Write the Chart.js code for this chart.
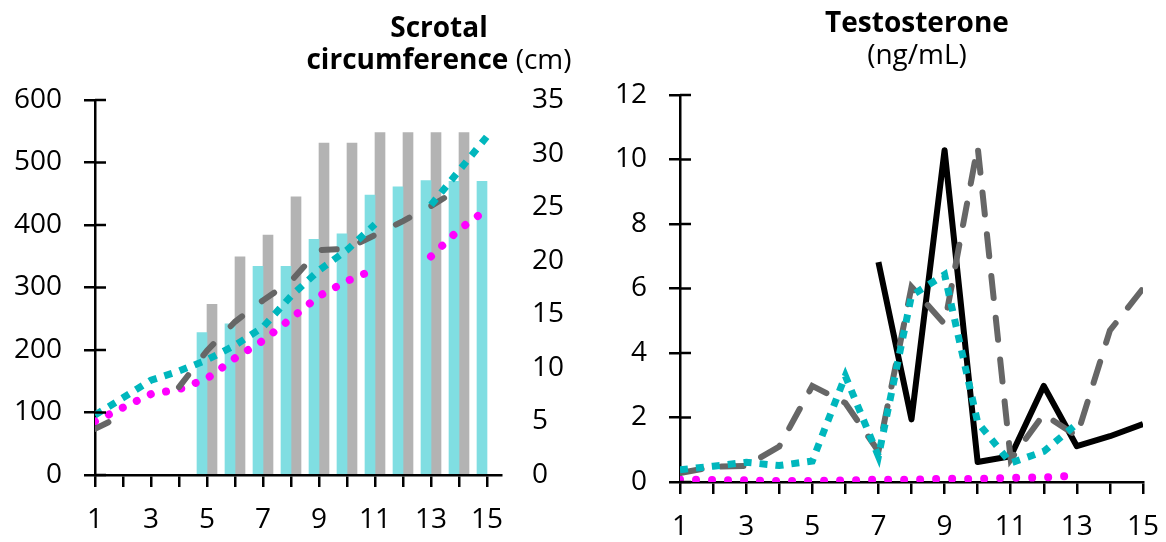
<!DOCTYPE html>
<html>
<head>
<meta charset="utf-8">
<script src="https://cdn.jsdelivr.net/npm/chart.js@4"></script>
<style>
  body { margin: 0; background: #fff; }
  #wrap { position: relative; width: 1166px; height: 542px; overflow: hidden; font-family: "Open Sans", sans-serif; color: #000; }
  canvas { position: absolute; top: 0; }
  .title { position: absolute; text-align: center; font-size: 28px; line-height: 32px; white-space: nowrap; }
  .title b { font-weight: 700; }
</style>
</head>
<body>
<div id="wrap">
  <canvas id="left" width="590" height="542" style="left:0"></canvas>
  <canvas id="right" width="576" height="542" style="left:590px"></canvas>
  <div class="title" style="left:239px; width:400px; top:10px;"><b>Scrotal</b><br><b>circumference</b> (cm)</div>
  <div class="title" style="left:717px; width:400px; top:5px;"><b>Testosterone</b><br>(ng/mL)</div>
</div>
<script>
// x categories (both charts)
const days = [1, 2, 3, 4, 5, 6, 7, 8, 9, 10, 11, 12, 13, 14, 15];

// left chart: bars on left axis (0-600)
const barCyan = [null, null, null, null, 228, 242, 334, 334, 377, 386, 448, 461, 471, 470, 470];
const barGray = [null, null, null, null, 273, 349, 384, 445, 531, 531, 548, 548, 548, 548, null];

// left chart: scrotal circumference lines on right axis (cm)
const scCyan = [5.6, 7.2, 8.85, 9.7, 10.75, 12.1, 13.8, 16.7, 19.1, 21.0, 23.4, null, 25.2, 28.4, 31.6];
const scGray = [4.3, 5.6, null, 8.2, 11.6, 14.3, 16.3, 18.1, 21.0, 21.1, 22.4, 23.7, 25.1, 26.7, null];
const scMagenta = [5.0, 6.3, 7.55, 8.0, 9.0, 10.9, 12.55, 14.6, 16.7, 18.1, 19.2, null, 20.4, 22.9, 24.8];

// right chart: testosterone (ng/mL)
const tBlack = [null, null, null, null, null, null, 6.82, 1.94, 10.29, 0.62, 0.8, 2.98, 1.11, 1.42, 1.8];
const tGray = [0.28, 0.47, 0.5, 1.1, 2.98, 2.45, 0.95, 6.05, 4.9, 10.4, 0.7, 2.1, 1.42, 4.7, 6.0];
const tCyan = [0.38, 0.49, 0.61, 0.51, 0.65, 3.29, 0.8, 5.78, 6.43, 1.85, 0.59, 0.95, 1.8, null, null];
const tMagenta = [0.08, 0.06, 0.05, 0.03, 0.03, 0.05, 0.07, 0.07, 0.1, 0.09, 0.13, 0.14, 0.2, null, null];

// tick labels
const leftTicks = [0, 100, 200, 300, 400, 500, 600];
const rightTicks = [0, 5, 10, 15, 20, 25, 30, 35];
const testTicks = [0, 2, 4, 6, 8, 10, 12];

const tickFont = { family: "Open Sans", size: 28 };
const toXY = arr => arr.map((v, i) => ({ x: days[i], y: v }));

// draws the half of each y tick that sits inside the plot
const innerTicks = {
  id: 'innerTicks',
  afterDraw(chart, args, opts) {
    const s = chart.scales[opts.axis];
    const ctx = chart.ctx;
    ctx.save();
    ctx.strokeStyle = '#000';
    ctx.lineWidth = 2.5;
    s.ticks.forEach(t => {
      const y = s.getPixelForValue(t.value);
      ctx.beginPath();
      ctx.moveTo(s.right, y);
      ctx.lineTo(s.right + opts.len, y);
      ctx.stroke();
    });
    ctx.restore();
  }
};

function xScale(max, h) {
  return {
    type: 'linear',
    bounds: 'data',
    offset: false,
    min: 1,
    max: max,
    afterBuildTicks: s => { s.ticks = days.map(d => ({ value: d })); },
    afterFit: s => { s.height = h; s.paddingLeft = 0; s.paddingRight = 0; },
    ticks: {
      autoSkip: false, maxRotation: 0, color: '#000', font: tickFont, padding: 16,
      callback: v => (v % 2 === 1 ? String(v) : '')
    },
    grid: { drawOnChartArea: false, offset: false, tickLength: 12, color: '#000', lineWidth: 2.5 },
    border: { color: '#000', width: 2.5 }
  };
}

function yScale(ticks, w) {
  return {
    type: 'linear',
    position: 'left',
    bounds: 'data',
    min: ticks[0],
    max: ticks[ticks.length - 1],
    afterBuildTicks: s => { s.ticks = ticks.map(v => ({ value: v })); },
    afterFit: s => { s.width = w; s.paddingTop = 0; s.paddingBottom = 0; },
    ticks: { color: '#000', font: tickFont, padding: 22 },
    grid: { drawOnChartArea: false, tickLength: 11, color: '#000', lineWidth: 2.5 },
    border: { color: '#000', width: 2.5 }
  };
}

const common = {
  responsive: false,
  animation: false,
  events: [],
  plugins: { legend: { display: false }, tooltip: { enabled: false } }
};

new Chart(document.getElementById('left'), {
  type: 'bar',
  data: {
    datasets: [
      { type: 'line', data: toXY(scCyan), yAxisID: 'y1', order: 0, borderColor: '#00b7bd', borderWidth: 7,
        borderDash: [8, 8], borderCapStyle: 'butt', pointRadius: 0, spanGaps: false },
      { type: 'line', data: toXY(scGray), yAxisID: 'y1', order: 0, borderColor: '#666666', borderWidth: 6,
        borderDash: [15, 25], borderCapStyle: 'round', pointRadius: 0, spanGaps: false },
      { type: 'line', data: toXY(scMagenta), yAxisID: 'y1', order: 0, borderColor: '#ff00ff', borderWidth: 8,
        borderDash: [0.01, 15.5], borderCapStyle: 'round', pointRadius: 0, spanGaps: false },
      { data: toXY(barCyan), yAxisID: 'y', order: 1, backgroundColor: '#80dee2', barThickness: 10 },
      { data: toXY(barGray), yAxisID: 'y', order: 1, backgroundColor: '#b3b3b3', barThickness: 10 }
    ]
  },
  options: Object.assign({}, common, {
    layout: { padding: { top: 100, left: 0, right: 0, bottom: 0 } },
    scales: {
      x: xScale(15.5, 67),
      y: yScale(leftTicks, 95),
      y1: {
        type: 'linear', position: 'right', bounds: 'data', min: 0, max: 35,
        afterBuildTicks: s => { s.ticks = rightTicks.map(v => ({ value: v })); },
        afterFit: s => { s.width = 89; s.paddingTop = 0; s.paddingBottom = 0; },
        ticks: { color: '#000', font: tickFont, padding: 31 },
        grid: { display: false, drawTicks: false },
        border: { display: false }
      }
    },
    plugins: Object.assign({}, common.plugins, { innerTicks: { axis: 'y', len: 11 } })
  }),
  plugins: [innerTicks]
});

new Chart(document.getElementById('right'), {
  type: 'line',
  data: {
    datasets: [
      { data: toXY(tCyan), borderColor: '#00b7bd', borderWidth: 7, borderDash: [8, 8], borderCapStyle: 'butt' },
      { data: toXY(tGray), borderColor: '#666666', borderWidth: 6, borderDash: [22, 20], borderCapStyle: 'round' },
      { data: toXY(tBlack), borderColor: '#000000', borderWidth: 6, borderJoinStyle: 'round' },
      { data: toXY(tMagenta), borderColor: '#ff00ff', borderWidth: 8, borderDash: [0.01, 16], borderCapStyle: 'round' }
    ].map(d => Object.assign({ pointRadius: 0, spanGaps: false, tension: 0 }, d))
  },
  options: Object.assign({}, common, {
    layout: { padding: { top: 95, left: 0, right: 23, bottom: 0 } },
    scales: {
      x: xScale(15, 60),
      y: yScale(testTicks, 90)
    },
    plugins: Object.assign({}, common.plugins, { innerTicks: { axis: 'y', len: 11 } })
  }),
  plugins: [innerTicks]
});
</script>
</body>
</html>
